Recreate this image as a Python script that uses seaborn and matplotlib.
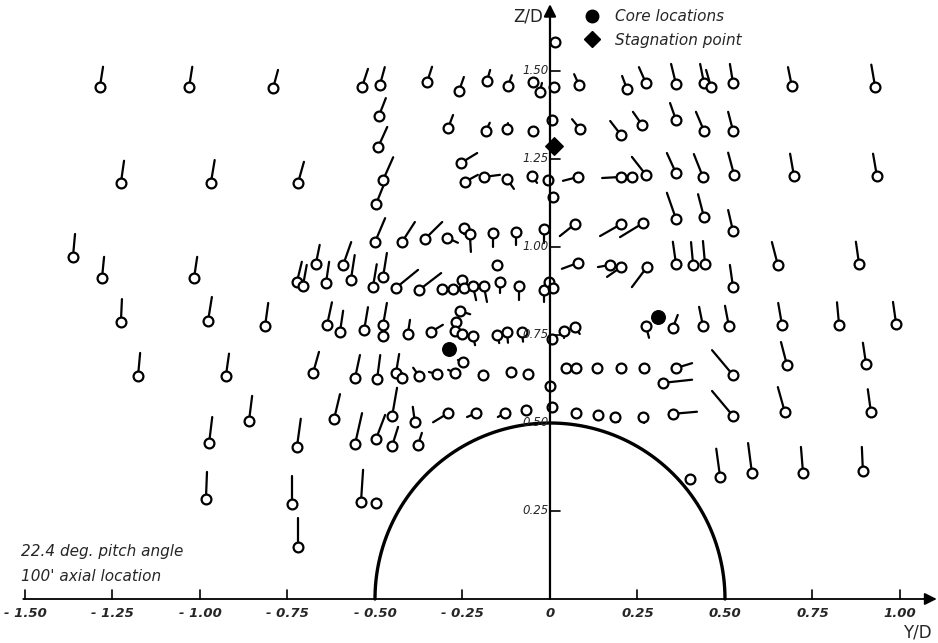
import numpy as np
import pandas as pd
import seaborn as sns
import matplotlib
matplotlib.use("Agg")
from matplotlib import pyplot as plt
from matplotlib.collections import LineCollection
from matplotlib.lines import Line2D

# measuring points (Y/D, Z/D) and secondary-flow vector components
y_pos = [-1.286, -1.031, -0.791, -0.537, -0.486, -0.351, -0.260, -0.180, -0.120, -0.049,
         -0.029, 0.011, 0.083, 0.220, 0.274, 0.360, 0.440, 0.460, 0.523, 0.691,
         0.929, 0.014,
         -0.489, -0.491, -0.291, -0.183, -0.123, -0.049, 0.006, 0.086, 0.203, 0.263,
         0.360, 0.440, 0.523,
         -1.226, -0.969, -0.720, -0.477, -0.497, -0.254, -0.243, -0.189, -0.123, -0.051,
         -0.006, 0.009, 0.080, 0.203, 0.234, 0.274, 0.360, 0.437, 0.526, 0.697,
         0.934,
         -0.500, -0.423, -0.357, -0.294, -0.246, -0.229, -0.163, -0.097, -0.017, 0.071,
         0.203, 0.266, 0.360, 0.440, 0.523,
         -1.363, -1.280, -1.017, -0.723, -0.706, -0.669, -0.640, -0.591, -0.569, -0.506,
         -0.477, -0.440, -0.374, -0.309, -0.277, -0.251, -0.246, -0.220, -0.189, -0.151,
         -0.143, -0.089, -0.017, -0.003, 0.009, 0.080, 0.171, 0.203, 0.277, 0.360,
         0.409, 0.443, 0.523, 0.651, 0.883,
         -1.226, -0.977, -0.814, -0.637, -0.600, -0.531, -0.477, -0.477, -0.406, -0.340,
         -0.269, -0.257, -0.271, -0.251, -0.220, -0.151, -0.123, -0.080, 0.006, 0.040,
         0.071, 0.274, 0.351, 0.437, 0.511, 0.663, 0.826, 0.989,
         -1.177, -0.926, -0.677, -0.557, -0.494, -0.440, -0.423, -0.374, -0.323, -0.271,
         -0.249, -0.191, -0.111, -0.063, 0.000, 0.046, 0.074, 0.134, 0.203, 0.269,
         0.360, 0.323, 0.523, 0.677, 0.903,
         -0.860, -0.617, -0.451, -0.386, -0.291, -0.211, -0.129, -0.069, 0.006, 0.074,
         0.137, 0.186, 0.266, 0.351, 0.523, 0.671, 0.917,
         -0.974, -0.723, -0.557, -0.497, -0.451, -0.377,
         0.400, 0.486, 0.577, 0.723, 0.894,
         -0.983, -0.737, -0.540, -0.497,
         -0.720]
z_pos = [1.455, 1.455, 1.452, 1.455, 1.460, 1.469, 1.443, 1.472, 1.457, 1.469,
         1.440, 1.455, 1.460, 1.449, 1.466, 1.463, 1.466, 1.455, 1.466, 1.457,
         1.455, 1.582,
         1.372, 1.284, 1.338, 1.330, 1.335, 1.330, 1.361, 1.335, 1.318, 1.347,
         1.361, 1.330, 1.330,
         1.182, 1.182, 1.182, 1.190, 1.122, 1.239, 1.185, 1.199, 1.193, 1.202,
         1.190, 1.142, 1.199, 1.199, 1.199, 1.205, 1.210, 1.199, 1.205, 1.202,
         1.202,
         1.014, 1.014, 1.023, 1.026, 1.054, 1.037, 1.040, 1.043, 1.051, 1.065,
         1.065, 1.068, 1.080, 1.085, 1.045,
         0.972, 0.912, 0.912, 0.901, 0.889, 0.952, 0.898, 0.949, 0.906, 0.886,
         0.915, 0.884, 0.878, 0.881, 0.881, 0.906, 0.884, 0.889, 0.889, 0.949,
         0.901, 0.889, 0.878, 0.901, 0.884, 0.955, 0.949, 0.943, 0.943, 0.952,
         0.949, 0.952, 0.886, 0.949, 0.952,
         0.787, 0.790, 0.776, 0.778, 0.759, 0.764, 0.778, 0.747, 0.753, 0.759,
         0.787, 0.818, 0.761, 0.753, 0.747, 0.750, 0.759, 0.759, 0.739, 0.761,
         0.773, 0.776, 0.770, 0.776, 0.776, 0.778, 0.778, 0.781,
         0.634, 0.634, 0.642, 0.628, 0.625, 0.642, 0.628, 0.634, 0.639, 0.642,
         0.673, 0.636, 0.645, 0.639, 0.605, 0.656, 0.656, 0.656, 0.656, 0.656,
         0.656, 0.614, 0.636, 0.665, 0.668,
         0.506, 0.511, 0.520, 0.503, 0.528, 0.528, 0.528, 0.537, 0.545, 0.528,
         0.523, 0.517, 0.517, 0.526, 0.520, 0.531, 0.531,
         0.443, 0.432, 0.440, 0.455, 0.435, 0.438,
         0.341, 0.347, 0.358, 0.358, 0.364,
         0.284, 0.270, 0.276, 0.273,
         0.148]
u_vec = [0.009, 0.009, 0.014, 0.017, 0.014, 0.014, 0.014, 0.009, 0.011, 0.011,
         0.006, 0.0, -0.014, -0.014, -0.020, -0.014, -0.011, -0.014, -0.009, -0.011,
         -0.011, 0.0,
         0.020, 0.026, 0.014, 0.011, 0.003, 0.0, 0.0, -0.023, -0.031, -0.026,
         -0.017, -0.023, -0.014,
         0.009, 0.011, 0.017, 0.029, 0.023, 0.046, 0.037, 0.046, 0.020, 0.014,
         0.0, 0.0, -0.043, -0.054, 0.0, -0.040, -0.026, -0.026, -0.017, -0.011,
         -0.011,
         0.029, 0.037, 0.049, 0.031, 0.0, 0.003, 0.0, 0.0, 0.0, -0.043,
         -0.060, -0.066, -0.026, -0.017, -0.014,
         0.006, 0.006, 0.009, 0.014, 0.011, 0.011, 0.009, 0.023, 0.011, 0.011,
         0.011, 0.063, 0.063, 0.0, 0.0, 0.0, 0.0, 0.009, 0.009, 0.0,
         0.0, 0.0, 0.0, 0.0, 0.0, -0.046, -0.034, -0.040, -0.043, -0.009,
         -0.006, -0.006, -0.009, -0.017, -0.009,
         0.003, 0.011, 0.009, 0.014, 0.009, 0.011, 0.011, 0.0, 0.006, 0.034,
         0.0, 0.029, 0.0, 0.0, 0.006, 0.006, 0.003, 0.003, 0.0, 0.0,
         0.014, 0.009, 0.014, -0.011, -0.011, -0.011, -0.006, -0.009,
         0.006, 0.009, 0.017, 0.014, 0.009, 0.009, 0.0, -0.017, -0.023, -0.020,
         -0.014, 0.0, 0.0, 0.0, 0.0, 0.0, 0.0, 0.0, 0.0, 0.006,
         0.046, 0.083, -0.060, -0.017, -0.009,
         0.009, 0.017, 0.014, -0.006, -0.043, -0.026, -0.020, 0.0, 0.0, 0.0,
         0.0, 0.009, 0.003, 0.069, -0.060, -0.020, -0.009,
         0.009, 0.011, 0.020, 0.026, 0.017, 0.011,
         0.0, -0.011, -0.011, -0.006, -0.003,
         0.003, 0.0, 0.006, 0.0,
         0.0]
w_vec = [0.057, 0.057, 0.051, 0.051, 0.051, 0.043, 0.040, 0.031, 0.031, 0.009,
         0.026, 0.0, 0.031, 0.037, 0.045, 0.057, 0.054, 0.048, 0.054, 0.054,
         0.063, 0.0,
         0.051, 0.057, 0.037, 0.023, 0.017, 0.0, 0.0, 0.028, 0.040, 0.037,
         0.048, 0.054, 0.054,
         0.063, 0.065, 0.060, 0.065, 0.057, 0.028, 0.020, 0.006, -0.028, -0.020,
         -0.011, 0.0, -0.011, -0.003, 0.0, 0.051, 0.057, 0.065, 0.063, 0.063,
         0.063,
         0.068, 0.057, 0.048, -0.014, -0.017, -0.051, -0.040, -0.037, -0.040, -0.034,
         -0.034, -0.040, 0.074, 0.065, 0.060,
         0.065, 0.060, 0.060, 0.057, 0.060, 0.054, 0.060, 0.065, 0.071, 0.065,
         0.068, 0.051, 0.048, 0.0, 0.0, 0.0, 0.0, -0.040, -0.045, 0.0,
         -0.031, -0.040, -0.034, 0.0, 0.0, -0.017, -0.006, -0.028, -0.057, 0.063,
         0.065, 0.065, 0.063, 0.065, 0.063,
         0.065, 0.068, 0.065, 0.065, 0.060, 0.065, 0.063, 0.0, 0.040, 0.020,
         0.0, -0.009, 0.0, 0.0, -0.026, -0.023, -0.031, -0.028, 0.0, -0.020,
         -0.020, -0.034, 0.037, 0.054, 0.057, 0.063, 0.065, 0.063,
         0.065, 0.063, 0.060, 0.065, 0.068, 0.054, 0.014, 0.023, 0.006, 0.009,
         0.006, 0.0, 0.0, 0.0, 0.0, 0.0, 0.0, 0.0, 0.0, -0.014,
         0.014, 0.009, 0.071, 0.065, 0.060,
         0.071, 0.071, 0.080, 0.043, -0.026, -0.011, -0.011, 0.0, 0.0, 0.0,
         0.0, -0.014, -0.017, 0.006, 0.071, 0.071, 0.065,
         0.074, 0.080, 0.088, 0.068, 0.054, 0.034,
         0.0, 0.080, 0.085, 0.074, 0.068,
         0.077, 0.080, 0.091, 0.0,
         0.082]

core_y = [-0.289, 0.309]
core_z = [0.710, 0.801]
stag_y = [0.011]
stag_z = [1.287]

y_ticks = [-1.50, -1.25, -1.00, -0.75, -0.50, -0.25, 0.0, 0.25, 0.50, 0.75, 1.00]
y_tick_labels = ["- 1.50", "- 1.25", "- 1.00", "- 0.75", "- 0.50", "- 0.25", "0",
                 "0.25", "0.50", "0.75", "1.00"]
z_ticks = [0.25, 0.50, 0.75, 1.00, 1.25, 1.50]
z_tick_labels = ["0.25", "0.50", "0.75", "1.00", "1.25", "1.50"]

df = pd.DataFrame({"Y": y_pos, "Z": z_pos, "u": u_vec, "w": w_vec})

sns.set_style("white")
plt.rcParams["font.family"] = ["DejaVu Sans"]

fig = plt.figure(figsize=(9.38, 6.43), dpi=100)
ax = fig.add_axes([0, 0, 1, 1])
ax.set_xlim(-1.5714, 1.1086)
ax.set_ylim(-0.125, 1.7017)
ax.axis("off")

# vectors (drawn under the circles)
vec = df[(df.u != 0) | (df.w != 0)]
segs = [[(r.Y, r.Z), (r.Y + r.u, r.Z + r.w)] for r in vec.itertuples()]
ax.add_collection(LineCollection(segs, colors="black", linewidths=1.6,
                                 capstyle="round", zorder=2))

sns.scatterplot(data=df, x="Y", y="Z", marker="o", s=50, color="white",
                edgecolor="black", linewidth=1.6, zorder=3, ax=ax, legend=False)

# vortex cores and stagnation point
ax.scatter(core_y, core_z, marker="o", s=95, color="black", zorder=4)
ax.scatter(stag_y, stag_z, marker="D", s=80, color="black", zorder=4)

# body contour
th = np.linspace(0, np.pi, 200)
ax.plot(0.5 * np.cos(th), 0.5 * np.sin(th), color="black", lw=2.4, zorder=1)

# axes with arrows
ax.annotate("", xy=(1.105, 0), xytext=(-1.505, 0),
            arrowprops=dict(arrowstyle="-|>", lw=1.3, color="black",
                            mutation_scale=18, shrinkA=0, shrinkB=0))
ax.annotate("", xy=(0, 1.69), xytext=(0, 0),
            arrowprops=dict(arrowstyle="-|>", lw=1.6, color="black",
                            mutation_scale=18, shrinkA=0, shrinkB=0))

for t, lab in zip(y_ticks, y_tick_labels):
    ax.plot([t, t], [0, 0.025], color="black", lw=1.2)
    ax.text(t, -0.04, lab, ha="center", va="center", fontsize=9.5,
            style="italic", fontweight="bold")
for t, lab in zip(z_ticks, z_tick_labels):
    ax.plot([0, 0.03], [t, t], color="black", lw=1.2)
    ax.text(-0.004, t, lab, ha="right", va="center", fontsize=8.5,
            style="italic")

ax.text(-0.02, 1.655, "Z/D", ha="right", va="center", fontsize=12)
ax.text(1.05, -0.094, "Y/D", ha="center", va="center", fontsize=12)

ax.text(-1.51, 0.134, "22.4 deg. pitch angle", ha="left", va="center",
        fontsize=11, style="italic")
ax.text(-1.51, 0.063, "100' axial location", ha="left", va="center",
        fontsize=11, style="italic")

handles = [Line2D([], [], marker="o", ls="", color="black", markersize=9),
           Line2D([], [], marker="D", ls="", color="black", markersize=8)]
ax.legend(handles, ["Core locations", "Stagnation point"], loc="upper left",
          bbox_to_anchor=(0.608, 0.995), frameon=False, handletextpad=0.5,
          labelspacing=0.55, prop={"style": "italic", "size": 11},
          borderaxespad=0)

fig.savefig("out.png", dpi=100)
